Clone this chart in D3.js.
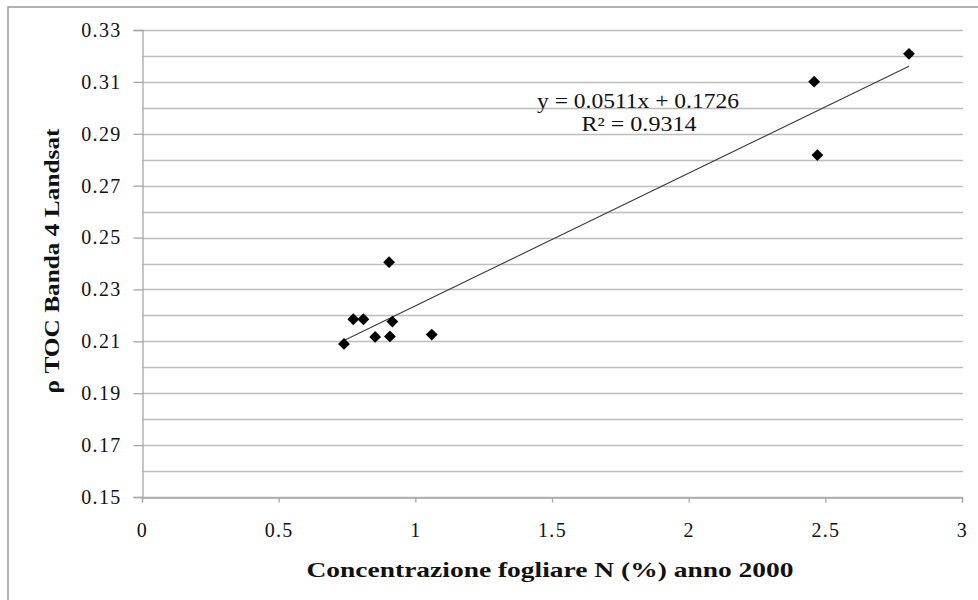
<!DOCTYPE html>
<html>
<head>
<meta charset="utf-8">
<script src="https://cdn.jsdelivr.net/npm/d3@7"></script>
<style>
  body{margin:0;background:#fff;}
  svg{display:block;}
  text{font-family:"Liberation Serif","Times New Roman",serif;fill:#111;}
</style>
</head>
<body>
<svg id="svgID" width="978" height="600"></svg>
<script>
// data
var nValues=[0.739,0.773,0.810,0.853,0.904,0.907,0.916,1.060,2.459,2.471,2.806];
var rhoValues=[0.2090,0.2185,0.2185,0.2117,0.2405,0.2119,0.2176,0.2126,0.3101,0.2818,0.3208];
var xTicks=[0,0.5,1,1.5,2,2.5,3];
var yTicks=[0.15,0.17,0.19,0.21,0.23,0.25,0.27,0.29,0.31,0.33];
var yGrid=[0.15,0.16,0.17,0.18,0.19,0.20,0.21,0.22,0.23,0.24,0.25,0.26,0.27,0.28,0.29,0.30,0.31,0.32,0.33];
var slope=0.0511, intercept=0.1726, r2="0.9314";

var svg=d3.select("#svgID");
var plotLeft=142, plotRight=962, plotTop=30, plotBottom=497;

var x=d3.scaleLinear().domain([0,3]).range([plotLeft,plotRight]);
var y=d3.scaleLinear().domain([0.15,0.33]).range([plotBottom,plotTop]);

// outer frame (right and bottom edges fall outside the picture)
svg.append("rect")
    .attr("x",8).attr("y",7).attr("width",990).attr("height",610)
    .attr("fill","none").attr("stroke","#999").attr("stroke-width",1.5);

// horizontal gridlines
svg.append("g").selectAll("line").data(yGrid).join("line")
    .attr("x1",plotLeft).attr("x2",plotRight+1)
    .attr("y1",function(d){return Math.round(y(d))+0.5;})
    .attr("y2",function(d){return Math.round(y(d))+0.5;})
    .attr("stroke","#bdbdbd").attr("stroke-width",1.3);

// y axis
var yAxis=svg.append("g")
    .attr("transform","translate("+(plotLeft+0.5)+",0)")
    .call(d3.axisLeft(y).tickValues(yTicks).tickSize(9).tickPadding(12)
        .tickFormat(d3.format(".2f")));
yAxis.select(".domain").attr("stroke","#a8a8a8").attr("stroke-width",1.3);
yAxis.selectAll(".tick line").attr("stroke","#a8a8a8").attr("stroke-width",1.3);
yAxis.selectAll("text").attr("font-size",20).attr("letter-spacing","1.3px")
    .attr("fill","#151515").attr("font-family","Liberation Serif");

// x axis
var xAxis=svg.append("g")
    .attr("transform","translate(0,"+(plotBottom+0.5)+")")
    .call(d3.axisBottom(x).tickValues(xTicks).tickSize(5).tickPadding(20)
        .tickFormat(function(d){return String(d);}));
xAxis.select(".domain").attr("stroke","#a8a8a8").attr("stroke-width",1.3);
xAxis.selectAll(".tick line").attr("stroke","#a8a8a8").attr("stroke-width",1.3);
xAxis.selectAll("text").attr("font-size",20).attr("letter-spacing","1.3px")
    .attr("fill","#151515").attr("font-family","Liberation Serif");

// trendline over the data range
var xMin=d3.min(nValues), xMax=d3.max(nValues);
svg.append("line")
    .attr("x1",x(xMin)).attr("y1",y(slope*xMin+intercept))
    .attr("x2",x(xMax)).attr("y2",y(slope*xMax+intercept))
    .attr("stroke","#3a3a3a").attr("stroke-width",1.1);

// diamond markers
var diamond=d3.symbol().type(d3.symbolSquare).size(70);
svg.append("g").selectAll("path").data(nValues).join("path")
    .attr("d",diamond)
    .attr("transform",function(d,i){return "translate("+x(d)+","+y(rhoValues[i])+") rotate(45)";})
    .attr("fill","#000");

// equation label
svg.append("text").attr("x",638).attr("y",108).attr("text-anchor","middle")
    .attr("font-size",20).attr("fill","#2a2a2a")
    .attr("textLength",202).attr("lengthAdjust","spacingAndGlyphs")
    .text("y = "+slope.toFixed(4)+"x + "+intercept.toFixed(4));
svg.append("text").attr("x",639).attr("y",131).attr("text-anchor","middle")
    .attr("font-size",20).attr("fill","#2a2a2a")
    .attr("textLength",115).attr("lengthAdjust","spacingAndGlyphs")
    .text("R² = "+r2);

// axis titles
svg.append("text").attr("x",550).attr("y",577).attr("text-anchor","middle")
    .attr("font-size",22).attr("font-weight","bold")
    .attr("textLength",487).attr("lengthAdjust","spacingAndGlyphs")
    .text("Concentrazione fogliare N (%) anno 2000");
svg.append("text").attr("transform","translate(59,261) rotate(-90)")
    .attr("text-anchor","middle")
    .attr("font-size",22).attr("font-weight","bold")
    .attr("textLength",265).attr("lengthAdjust","spacingAndGlyphs")
    .text("ρ TOC Banda 4 Landsat");
</script>
</body>
</html>
